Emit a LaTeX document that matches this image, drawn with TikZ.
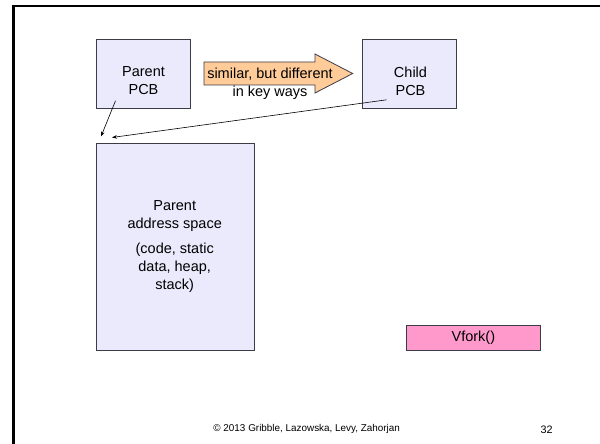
\documentclass[tikz,border=0pt]{standalone}
\usepackage{fontspec}
\setmainfont{Liberation Sans}
\usetikzlibrary{arrows.meta,calc}
\definecolor{boxfill}{RGB}{234,234,252}
\definecolor{boxline}{RGB}{60,60,70}
\definecolor{arrowfill}{RGB}{255,204,153}
\definecolor{pinkfill}{RGB}{255,153,204}
\begin{document}
\begin{tikzpicture}[x=1pt,y=-1pt,
  box/.style={draw=boxline, fill=boxfill, line width=0.8pt, inner sep=0pt, anchor=north west},
  lbl/.style={font=\fontsize{14.5}{18}\selectfont, align=center, inner sep=0pt},
  conn/.style={line width=0.6pt, -{Stealth[length=5pt,width=3.6pt]}}]
\useasboundingbox (0,0) rectangle (600,444);
% slide frame
\draw[line width=2.5pt] (13.3,444) -- (13.3,6) -- (600,6);
% PCB boxes
\node[box, minimum width=94pt, minimum height=69pt] (ppcb) at (95.5,39) {};
\node[lbl] (ppcbt) at (143.5,81) {Parent\\PCB};
\node[box, minimum width=94pt, minimum height=69pt] (cpcb) at (362,39) {};
\node[lbl] (cpcbt) at (410.5,81) {Child\\PCB};
% block arrow
\draw[fill=arrowfill, draw=boxline, line width=0.8pt]
  (204,62) -- (315,62) -- (315,54) -- (352.7,73.5) -- (315,93) -- (315,85) -- (204,85) -- cycle;
\node[lbl] (simt) at (270,83.4) {similar, but different\\in key ways};
% address space
\node[box, minimum width=158pt, minimum height=207pt] (addr) at (95.7,143.3) {};
\node[lbl] (addrt) at (174.7,246.5) {Parent\\address space\\[7.7pt](code, static\\data, heap,\\stack)};
% vfork
\node[box, fill=pinkfill, minimum width=133.4pt, minimum height=24.7pt,
      font=\fontsize{14.5}{18}\selectfont] (vfork) at (406.3,325.3) {Vfork()};
% connectors
\coordinate (s1) at ($(ppcb.south west)+(20,-8)$);
\coordinate (s2) at ($(cpcb.south west)+(24.7,-9)$);
\coordinate (e1) at ($(addr.north west)+(5.3,-6.8)$);
\coordinate (e2) at ($(addr.north west)+(16.3,-5.8)$);
\draw[conn] (s1) -- (e1);
\draw[conn] (s2) -- (e2);
% footer
\node[font=\fontsize{9.9}{12}\selectfont, inner sep=0pt] (copy) at (306.7,429) {© 2013 Gribble, Lazowska, Levy, Zahorjan};
\node[font=\fontsize{10.8}{13}\selectfont, inner sep=0pt] (pg) at (546.7,430) {32};
\end{tikzpicture}
\end{document}
